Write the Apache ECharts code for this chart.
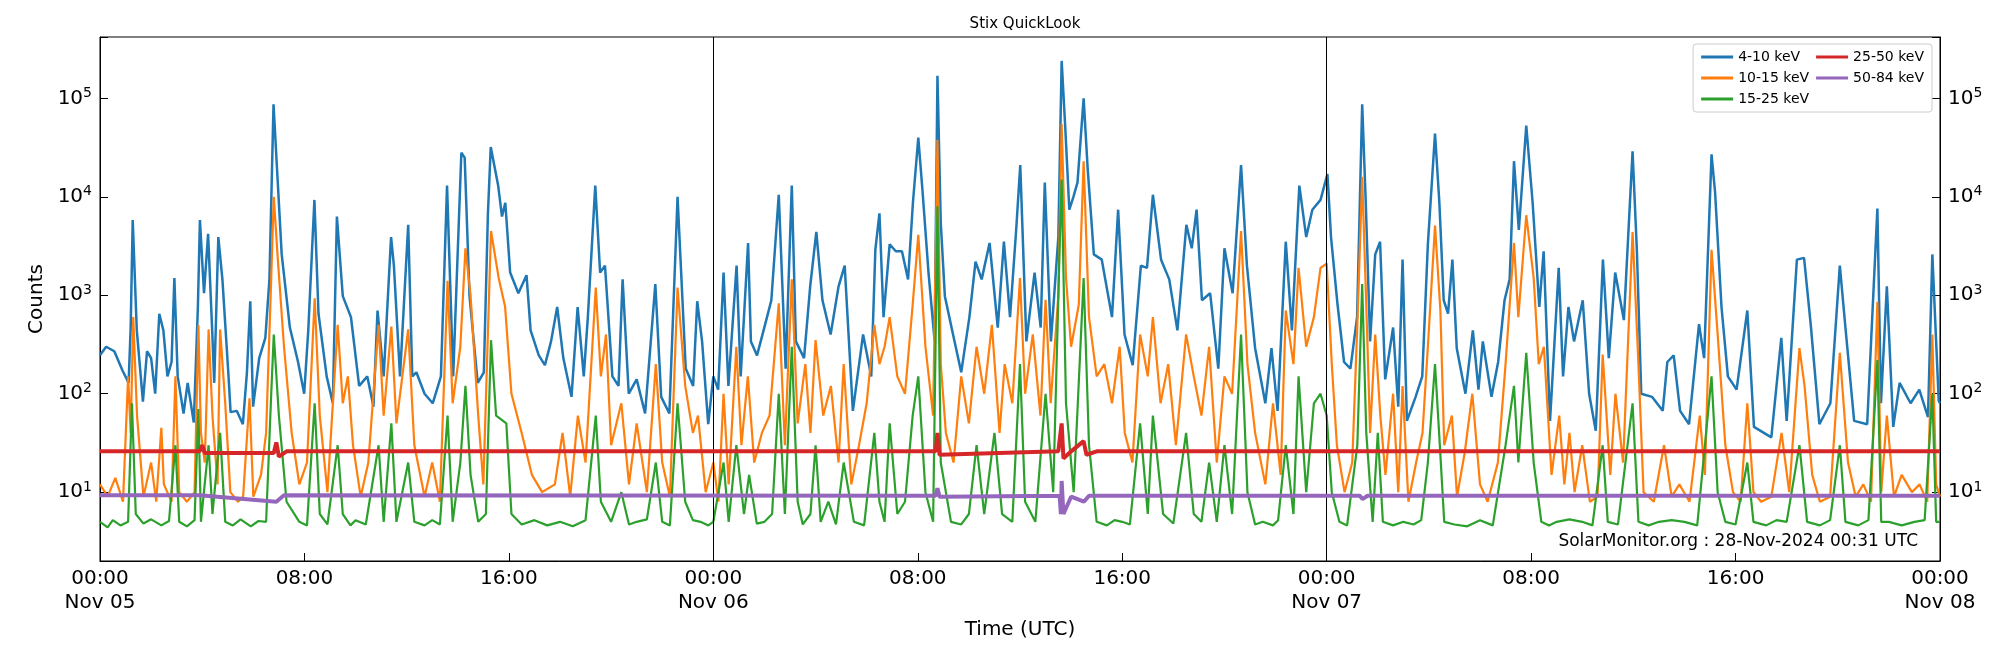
<!DOCTYPE html>
<html>
<head>
<meta charset="utf-8">
<script src="https://cdn.jsdelivr.net/npm/echarts@6/dist/echarts.min.js"></script>
<style>html,body{margin:0;background:#fff}#main{width:2000px;height:650px}</style>
</head>
<body>
<div id="main"></div>
<script>
// hours since Nov 05 00:00, counts
var seriesNames = ['4-10 keV', '10-15 keV', '15-25 keV', '25-50 keV', '50-84 keV'];
var seriesColors = ['#1f77b4', '#ff7f0e', '#2ca02c', '#d62728', '#9467bd'];
var dayLabels = ['Nov 05', 'Nov 06', 'Nov 07', 'Nov 08'];
var dayLines = [24, 48];

var band4_10 = [
  [0,246],[0.24,300],[0.56,270],[0.88,172],[1.12,129],[1.2,470],[1.28,5800],[1.44,440],[1.68,83],[1.84,270],[2.0,230],[2.16,100],[2.32,650],[2.48,440],[2.64,150],[2.8,210],[2.91,1500],[3.04,150],[3.27,63],[3.43,129],[3.67,51],[3.83,760],[3.91,5800],[4.07,1050],[4.23,4200],[4.39,440],[4.47,129],[4.63,3900],[4.79,1450],[5.03,150],[5.11,65],[5.35,67],[5.59,49],[5.75,165],[5.88,870],[5.99,74],[6.23,230],[6.47,370],[6.63,1450],[6.79,87000],[6.95,15000],[7.11,2600],[7.43,470],[7.75,210],[7.99,100],[8.15,440],[8.39,9300],[8.55,650],[8.87,150],[9.11,80],[9.27,6300],[9.5,980],[9.82,600],[10.14,120],[10.46,150],[10.7,74],[10.86,700],[11.1,150],[11.39,3900],[11.5,2000],[11.74,150],[12.06,5200],[12.22,150],[12.38,165],[12.7,100],[13.02,80],[13.34,150],[13.58,13000],[13.82,150],[14.14,28000],[14.27,25000],[14.46,980],[14.78,129],[15.02,165],[15.18,6800],[15.29,32000],[15.58,13000],[15.73,6300],[15.86,8700],[16.05,1700],[16.37,1050],[16.69,1600],[16.85,440],[17.17,245],[17.41,195],[17.65,340],[17.89,760],[18.13,230],[18.45,93],[18.69,760],[18.93,150],[19.09,600],[19.38,13000],[19.57,1700],[19.76,2000],[20.05,150],[20.29,120],[20.45,1450],[20.69,100],[21.0,140],[21.33,63],[21.73,1300],[21.96,93],[22.28,63],[22.6,10000],[22.92,180],[23.21,120],[23.37,870],[23.56,340],[23.8,49],[24.0,150],
  [24.19,110],[24.4,1700],[24.59,120],[24.91,2000],[25.07,150],[25.36,3400],[25.47,340],[25.71,245],[26.03,510],[26.27,890],[26.56,10500],[26.83,180],[27.07,13000],[27.23,340],[27.55,230],[27.79,1230],[28.03,4400],[28.27,890],[28.59,400],[28.9,1230],[29.14,2000],[29.46,67],[29.86,400],[30.18,150],[30.34,2900],[30.5,6800],[30.66,600],[30.9,3300],[31.14,2800],[31.38,2800],[31.62,1450],[31.81,8700],[32.02,40000],[32.18,12000],[32.42,1700],[32.66,340],[32.77,170000],[32.9,5400],[33.06,980],[33.38,400],[33.7,165],[34.02,600],[34.26,2200],[34.5,1450],[34.81,3400],[35.13,470],[35.37,3500],[35.61,600],[35.85,4600],[36.01,21000],[36.25,340],[36.57,1700],[36.81,470],[36.97,14000],[37.21,340],[37.5,3900],[37.63,240000],[37.77,51000],[37.93,7400],[38.09,10000],[38.25,14000],[38.49,100000],[38.65,19000],[38.89,2600],[39.2,2300],[39.6,600],[39.84,7400],[40.09,400],[40.41,195],[40.73,2000],[40.97,1900],[41.2,10500],[41.52,2300],[41.84,1450],[42.16,440],[42.51,5200],[42.72,3000],[42.91,7400],[43.12,890],[43.44,1050],[43.76,180],[44.0,3000],[44.32,1050],[44.65,21000],[44.88,2000],[45.2,290],[45.6,80],[45.84,290],[46.08,67],[46.4,3500],[46.64,440],[46.93,13000],[47.2,3900],[47.44,7400],[47.76,9300],[48.03,17000],
  [48.17,3900],[48.42,830],[48.68,210],[48.93,180],[49.19,600],[49.39,87000],[49.53,8700],[49.7,340],[49.9,2600],[50.09,3500],[50.29,140],[50.6,470],[50.8,74],[50.97,2300],[51.14,53],[51.48,93],[51.74,150],[51.96,3300],[52.24,44000],[52.41,8700],[52.58,890],[52.75,650],[52.92,2300],[53.09,290],[53.43,100],[53.72,440],[53.94,110],[54.11,340],[54.45,93],[54.71,210],[54.96,890],[55.16,1450],[55.33,23000],[55.52,4600],[55.81,53000],[56.06,8700],[56.32,760],[56.49,2800],[56.74,53],[57.08,1900],[57.25,150],[57.46,760],[57.68,340],[58.02,890],[58.27,100],[58.53,42],[58.81,2300],[59.04,230],[59.29,1700],[59.63,560],[59.97,29000],[60.14,2800],[60.31,100],[60.73,93],[61.15,67],[61.33,210],[61.58,245],[61.83,67],[62.18,49],[62.57,510],[62.77,230],[63.06,27000],[63.2,11000],[63.45,760],[63.7,150],[64.04,110],[64.46,700],[64.72,46],[65.4,36],[65.79,370],[66.0,53],[66.4,2300],[66.68,2400],[66.94,510],[67.28,49],[67.71,80],[68.08,2000],[68.3,470],[68.64,53],[69.15,49],[69.55,7600],[69.69,80],[69.92,1230],[70.17,46],[70.42,129],[70.85,80],[71.19,110],[71.53,58],[71.7,2600],[71.95,85],[72,80]
];

var band10_15 = [
  [0,12],[0.3,9],[0.6,14],[0.9,8],[1.1,150],[1.2,40],[1.3,600],[1.45,60],[1.7,9],[2.0,20],[2.2,8],[2.4,45],[2.5,12],[2.8,8],[2.95,150],[3.1,10],[3.4,8],[3.7,10],[3.85,500],[3.95,40],[4.1,20],[4.25,450],[4.4,60],[4.6,12],[4.7,450],[4.9,80],[5.1,10],[5.4,8],[5.6,9],[5.85,90],[6.0,9],[6.3,15],[6.5,40],[6.7,1500],[6.8,10000],[6.95,2500],[7.2,300],[7.5,40],[7.8,12],[8.1,20],[8.4,930],[8.6,60],[8.9,10],[9.3,500],[9.5,80],[9.7,150],[9.9,30],[10.2,9],[10.5,20],[10.9,500],[11.1,60],[11.4,480],[11.6,50],[12.06,450],[12.3,30],[12.7,9],[13.0,20],[13.3,8],[13.6,1400],[13.8,80],[14.1,300],[14.3,3000],[14.5,1000],[14.8,60],[15.0,12],[15.3,4500],[15.6,1500],[15.85,770],[16.1,100],[16.5,40],[16.9,15],[17.3,10],[17.8,12],[18.1,40],[18.4,9],[18.7,60],[19.0,20],[19.4,1200],[19.6,150],[19.8,400],[20.0,30],[20.4,80],[20.7,12],[21.0,50],[21.4,10],[21.75,200],[22.0,20],[22.3,9],[22.6,1200],[22.9,120],[23.2,40],[23.4,60],[23.7,10],[24.0,20],
  [24.2,8],[24.4,100],[24.6,12],[24.9,300],[25.1,30],[25.35,150],[25.6,20],[25.9,40],[26.2,60],[26.56,830],[26.8,30],[27.07,1450],[27.3,50],[27.6,200],[27.8,40],[28.0,350],[28.3,60],[28.6,120],[28.9,20],[29.1,200],[29.4,12],[29.7,30],[30.0,80],[30.3,500],[30.5,200],[30.7,300],[30.9,600],[31.2,150],[31.5,100],[31.8,800],[32.02,4100],[32.3,300],[32.6,60],[32.77,38000],[32.9,200],[33.1,40],[33.4,20],[33.7,150],[34.0,50],[34.3,300],[34.6,100],[34.9,500],[35.2,40],[35.4,200],[35.7,80],[36.0,1500],[36.2,100],[36.5,400],[36.8,60],[37.0,900],[37.2,80],[37.5,1000],[37.63,55000],[37.8,1500],[38.0,300],[38.3,800],[38.49,23000],[38.7,600],[39.0,150],[39.3,200],[39.6,80],[39.9,300],[40.1,40],[40.4,20],[40.7,400],[41.0,150],[41.2,600],[41.5,80],[41.8,200],[42.1,30],[42.5,400],[42.8,150],[43.1,60],[43.4,300],[43.7,20],[44.0,150],[44.3,100],[44.65,4500],[44.9,200],[45.2,40],[45.6,12],[45.9,80],[46.2,15],[46.4,700],[46.7,200],[46.9,1900],[47.2,300],[47.5,600],[47.76,1900],[48.0,2100],
  [48.2,200],[48.4,30],[48.7,10],[49.0,20],[49.2,500],[49.39,16000],[49.55,800],[49.7,40],[49.9,400],[50.1,60],[50.3,15],[50.6,100],[50.8,10],[50.97,120],[51.2,8],[51.5,20],[51.75,40],[51.96,300],[52.24,5100],[52.45,700],[52.6,30],[52.9,60],[53.1,9],[53.4,25],[53.7,100],[54.0,12],[54.3,8],[54.7,20],[55.0,200],[55.33,3400],[55.5,600],[55.81,6500],[56.1,1500],[56.3,200],[56.5,300],[56.8,15],[57.1,60],[57.3,12],[57.5,40],[57.7,10],[58.0,30],[58.3,8],[58.6,9],[58.8,250],[59.1,15],[59.3,100],[59.6,20],[59.97,4400],[60.2,200],[60.4,10],[60.8,8],[61.2,30],[61.5,9],[61.8,12],[62.2,8],[62.6,60],[62.8,15],[63.06,2900],[63.3,400],[63.6,30],[63.9,10],[64.2,8],[64.46,80],[64.7,10],[65.0,8],[65.4,9],[65.8,40],[66.1,10],[66.5,290],[66.7,120],[67.0,15],[67.3,8],[67.7,9],[68.08,260],[68.4,20],[68.7,9],[69.0,12],[69.3,8],[69.55,860],[69.7,10],[69.92,60],[70.2,9],[70.5,15],[70.9,10],[71.2,12],[71.5,8],[71.7,400],[71.85,12],[72,9]
];

var band15_25 = [
  [0,5],[0.3,4.4],[0.5,5.2],[0.8,4.6],[1.1,5],[1.25,80],[1.4,6],[1.7,4.8],[2,5.3],[2.4,4.6],[2.7,5.1],[2.95,30],[3.1,5],[3.4,4.5],[3.7,5.2],[3.85,70],[3.95,5],[4.25,30],[4.4,6],[4.7,40],[4.9,5],[5.2,4.6],[5.5,5.3],[5.9,4.5],[6.2,5.1],[6.5,5],[6.7,100],[6.8,400],[7.0,60],[7.3,8],[7.8,5],[8.1,4.6],[8.4,80],[8.6,6],[8.9,4.7],[9.3,30],[9.5,6],[9.8,4.6],[10,5.2],[10.4,4.7],[10.9,30],[11.1,5],[11.4,50],[11.6,5],[12.06,20],[12.3,5],[12.7,4.6],[13,5.2],[13.3,4.7],[13.6,60],[13.8,5],[14.1,20],[14.3,120],[14.5,15],[14.8,5],[15.1,6],[15.3,350],[15.5,60],[15.9,50],[16.1,6],[16.5,4.7],[17,5.2],[17.5,4.6],[18,5],[18.5,4.5],[19.0,5.2],[19.4,60],[19.6,8],[20.0,5],[20.4,10],[20.7,4.7],[21.0,5],[21.4,5.3],[21.75,20],[22.0,5],[22.3,4.6],[22.6,80],[22.9,8],[23.2,5.2],[23.5,5],[23.8,4.6],[24,5],
  [24.4,20],[24.6,5],[24.9,30],[25.2,6],[25.4,15],[25.7,4.8],[26,5],[26.3,6],[26.56,100],[26.8,6],[27.07,300],[27.3,8],[27.5,4.7],[27.8,6],[28.0,30],[28.2,5],[28.5,8],[28.8,4.7],[29.1,20],[29.5,5],[29.9,4.6],[30.3,40],[30.5,8],[30.7,5],[30.9,50],[31.2,6],[31.5,8],[31.8,60],[32.02,150],[32.3,10],[32.6,5],[32.77,8000],[32.9,20],[33.3,5],[33.7,4.7],[34.0,6],[34.3,30],[34.6,6],[35.0,40],[35.3,6],[35.7,5],[36.0,200],[36.2,8],[36.6,5],[37.0,100],[37.3,10],[37.55,3000],[37.63,15000],[37.8,80],[38.1,10],[38.49,1500],[38.7,30],[39.0,5],[39.4,4.6],[39.7,5.2],[40,5],[40.3,4.7],[40.7,50],[41.0,6],[41.2,60],[41.6,6],[42.0,4.8],[42.5,40],[42.8,6],[43.1,5],[43.4,20],[43.7,5],[44.0,30],[44.3,6],[44.65,400],[44.9,10],[45.2,4.7],[45.5,5],[45.9,4.6],[46.1,5.2],[46.4,30],[46.7,6],[46.9,150],[47.2,10],[47.5,80],[47.76,100],[48.0,60],
  [48.2,10],[48.5,5],[48.8,4.6],[49.2,30],[49.39,1300],[49.55,40],[49.8,5],[50.0,40],[50.2,5],[50.6,4.6],[51,5],[51.4,4.7],[51.7,5.2],[51.96,20],[52.24,200],[52.4,40],[52.6,5],[53.0,4.7],[53.5,4.5],[54.0,5.2],[54.5,4.6],[55.0,30],[55.33,120],[55.5,20],[55.81,260],[56.1,20],[56.4,5],[56.7,4.6],[57,5],[57.5,5.3],[58,5],[58.4,4.6],[58.8,30],[59.0,5],[59.4,4.7],[59.97,80],[60.2,5],[60.6,4.6],[61,5],[61.5,5.2],[62,5],[62.5,4.6],[63.06,150],[63.3,10],[63.6,5],[64.0,4.7],[64.46,20],[64.7,5],[65.2,4.6],[65.6,5.2],[66,5],[66.5,30],[66.8,5],[67.3,4.6],[67.7,5.2],[68.08,30],[68.3,5],[68.8,4.6],[69.2,5.2],[69.55,220],[69.7,5],[70,5],[70.5,4.6],[71,5],[71.4,5.2],[71.7,100],[71.85,5],[72,5]
];

var band25_50 = [
  [0,26],[3.9,26],[4.0,30],[4.1,25],[6.8,25],[6.9,32],[7.0,23],[7.3,26],[32.7,26],[32.77,40],[32.85,24],[37.5,26],[37.63,50],[37.7,22],[38.0,26],[38.49,33],[38.6,24],[39,26],[72,26]
];

var band50_84 = [
  [0,9.3],[3.9,9.3],[6.9,8],[7.2,9.3],[32.7,9.2],[32.77,11],[32.85,9],[37.55,9.2],[37.6,6],[37.63,13],[37.7,6],[38.0,9],[38.5,8],[38.7,9.2],[49.3,9.2],[49.4,8.5],[49.6,9.2],[72,9.2]
];

var chart = echarts.init(document.getElementById('main'));
var allData = [band4_10, band10_15, band15_25, band25_50, band50_84];
var lineWidths = [2.5, 2.2, 2.2, 4, 4];
var font = 'DejaVu Sans';

function yLabel(v) {
  var e = Math.round(Math.log10(v));
  if (Math.abs(Math.log10(v) - e) > 1e-6) return '';
  return '10{s|' + e + '}';
}
function xLabel(v) {
  var hh = v % 24;
  var t = (hh < 10 ? '0' : '') + hh + ':00';
  if (hh === 0) return t + '\n' + dayLabels[v / 24];
  return t;
}
var yRich = { s: { fontSize: 14, verticalAlign: 'top', padding: [0, 0, 10, 0], fontFamily: font, color: '#000' } };
var yCommon = {
  type: 'log', logBase: 10, min: 2, max: 420000,
  axisLine: { show: true, lineStyle: { color: '#000' } },
  axisTick: { inside: true, length: 8, lineStyle: { color: '#000' } },
  splitLine: { show: false },
  minorTick: { show: false }
};

chart.setOption({
  animation: false,
  title: { text: 'Stix QuickLook', left: 1020, top: 12, textAlign: 'center',
    textStyle: { fontSize: 15, fontWeight: 'normal', fontFamily: font, color: '#000' } },
  legend: {
    data: seriesNames, orient: 'vertical', right: 68, top: 44, height: 66,
    itemWidth: 32, itemHeight: 3, itemGap: 7, icon: 'rect',
    backgroundColor: '#fff', borderColor: '#ccc', borderWidth: 1, borderRadius: 3,
    padding: [6, 8, 6, 8],
    textStyle: { fontSize: 14, fontFamily: font, color: '#000' }
  },
  grid: { left: 100, right: 60, top: 37, bottom: 89, show: true, borderColor: '#000', borderWidth: 1 },
  xAxis: {
    type: 'value', min: 0, max: 72, interval: 8,
    name: 'Time (UTC)', nameLocation: 'middle', nameGap: 58,
    nameTextStyle: { fontSize: 20, fontFamily: font, color: '#000' },
    axisLine: { lineStyle: { color: '#000' } },
    axisTick: { inside: true, length: 8, lineStyle: { color: '#000' } },
    axisLabel: { formatter: xLabel, fontSize: 20, fontFamily: font, color: '#000', lineHeight: 24, margin: 6 },
    splitLine: { show: false }
  },
  yAxis: [
    Object.assign({}, yCommon, {
      position: 'left', name: 'Counts', nameLocation: 'middle', nameGap: 44,
      nameTextStyle: { fontSize: 20, fontFamily: font, color: '#000' },
      axisLabel: { formatter: yLabel, fontSize: 20, fontFamily: font, color: '#000', rich: yRich, margin: 8 }
    }),
    Object.assign({}, yCommon, {
      position: 'right',
      axisLabel: { formatter: yLabel, fontSize: 20, fontFamily: font, color: '#000', rich: yRich, margin: 8 }
    })
  ],
  graphic: [{
    type: 'text', right: 82, top: 533,
    style: { text: 'SolarMonitor.org : 28-Nov-2024 00:31 UTC', fontSize: 17, fontFamily: font, fill: '#000' }
  }],
  series: allData.map(function (d, i) {
    var s = {
      name: seriesNames[i], type: 'line', data: d, showSymbol: false,
      color: seriesColors[i], lineStyle: { width: lineWidths[i] }, z: 2 + i
    };
    if (i === 0) {
      s.markLine = {
        silent: true, symbol: 'none', label: { show: false },
        lineStyle: { color: '#000', width: 1, type: 'solid' },
        data: dayLines.map(function (h) { return { xAxis: h }; })
      };
    }
    return s;
  })
});
</script>
</body>
</html>
